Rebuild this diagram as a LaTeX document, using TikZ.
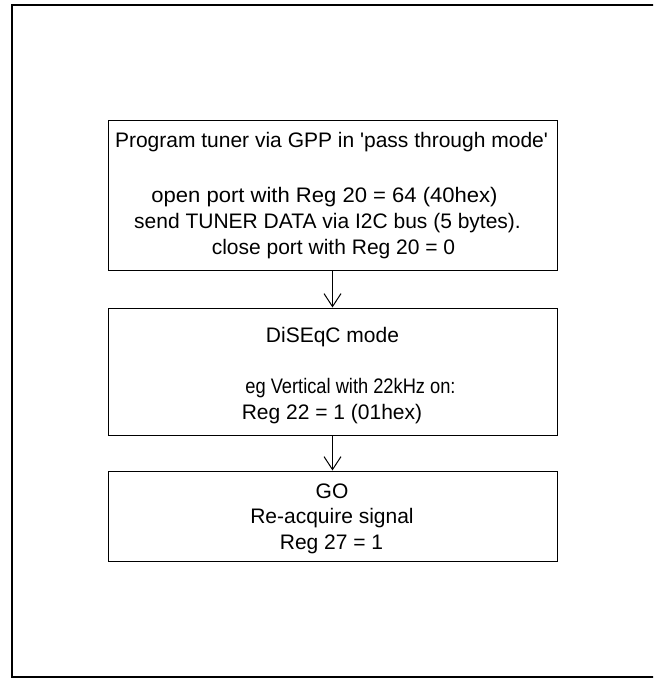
\documentclass[tikz,border=0pt]{standalone}
\usepackage{fontspec}
\usepackage{graphicx}
\setmainfont{Liberation Sans}
\usetikzlibrary{arrows.meta}
\tikzset{
  box/.style={draw=black, line width=1pt, minimum width=449pt, inner sep=0pt},
  txt/.style={anchor=base, inner sep=0pt, font=\fontsize{21}{25}\selectfont},
  flow/.style={draw=black, line width=1pt, -{Straight Barb[length=13pt,width=17pt,line width=1pt]}},
  frame/.style={draw=black, line width=2.2pt}
}
\begin{document}
\begin{tikzpicture}[x=1pt,y=-1pt]
\clip (0,0) rectangle (653,679);
\fill[white] (0,0) rectangle (653,679);
\draw[frame] (12,5) rectangle (680,677);
% boxes
\node[box, minimum height=149pt] (b1) at (332.5,195.5) {};
\node[box, minimum height=127pt] (b2) at (332.5,371.5) {};
\node[box, minimum height=90pt] (b3) at (332.5,516) {};
% texts box 1
\node[txt] (t11) at (331.5,148) {Program tuner via GPP in \textquotesingle pass through mode\textquotesingle};
\node[txt] (t12) at (324.5,202) {\scalebox{1.05}[1]{open port with Reg 20 = 64 (40hex)}};
\node[txt] (t13) at (327.5,228) {send TUNER DATA via I2C bus (5 bytes).};
\node[txt] (t14) at (333.5,254) {close port with Reg 20 = 0};
% texts box 2
\node[txt] (t21) at (332.5,342) {DiSEqC mode};
\node[txt] (t22) at (350.5,393) {\scalebox{0.87}[1]{eg Vertical with 22kHz on:}};
\node[txt] (t23) at (332,419) {Reg 22 = 1 (01hex)};
% texts box 3
\node[txt] (t31) at (332,498) {GO};
\node[txt] (t32) at (332,523) {Re-acquire signal};
\node[txt] (t33) at (331.5,549) {Reg 27 = 1};
% connectors
\draw[flow] (b1.south) -- (b2.north);
\draw[flow] (b2.south) -- (b3.north);
\end{tikzpicture}
\end{document}
